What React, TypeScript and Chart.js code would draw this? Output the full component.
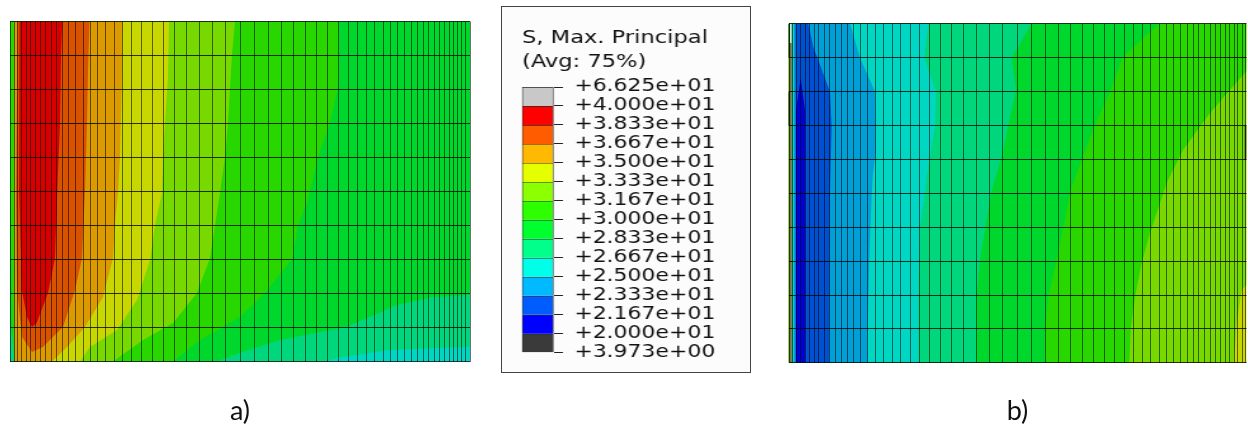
import React, { useEffect, useRef } from "react";
import Chart from "chart.js/auto";

type Pt = [number, number];

// ---- legend ----
const legendTitle = ["S, Max. Principal", "(Avg: 75%)"];
const legendTicks = [
  "+6.625e+01", "+4.000e+01", "+3.833e+01", "+3.667e+01", "+3.500e+01",
  "+3.333e+01", "+3.167e+01", "+3.000e+01", "+2.833e+01", "+2.667e+01",
  "+2.500e+01", "+2.333e+01", "+2.167e+01", "+2.000e+01", "+3.973e+00",
];
const legendColors = [
  "#c8c8c8", "#ff0000", "#ff5c00", "#ffb900", "#e6ff00", "#8cff00", "#2eff00",
  "#00ff2e", "#00ff8b", "#00ffe8", "#00b9ff", "#005cff", "#0000ff", "#3a3a3a",
];

// ---- contour colours as lit in the model view ----
const C = {
  red: "#d60000", orangeRed: "#d95200", orange: "#db9b00", yellow: "#c8d700",
  yg: "#78d900", lime: "#28d700", green: "#00d72c", teal: "#00d77c",
  cyan: "#00d7c3", sky: "#00a0d7", blue: "#0050d2", deep: "#0000d7",
  brown: "#a05a40", pale: "#d8dcd0",
};

// ---- panel a) mesh ----
const aMeshX = [10, 14.7, 17.7, 21.7, 26, 30.7, 35.3, 40.3, 45.7, 51, 56.7, 62.3, 68.7, 75.7, 83, 90, 97.7, 105.7, 114, 122.3, 131.7, 141.7, 152.3, 163, 174.7, 186.3, 199, 212, 225.7, 240, 254, 268.3, 281.3, 293.7, 305.3, 316.7, 327.7, 338.3, 348, 357.3, 366.3, 374.7, 383, 390.3, 397.7, 404.7, 411.3, 417.3, 423, 428.3, 434.3, 439.3, 444.7, 449.3, 453.7, 457.7, 461.7, 465.7, 470];
const aMeshY = [21.5, 55.3, 89.3, 123.3, 157.3, 191.3, 225.3, 259.3, 293.3, 327.3, 361.5];

// ---- panel a) contour regions, back to front ----
const aCyan: Pt[] = [[10, 21.5], [470, 21.5], [470, 361.5], [10, 361.5]];
const aTeal: Pt[] = [[10, 21.5], [470, 21.5], [470, 346.7], [390, 350], [337, 358], [327, 361.5], [10, 361.5]];
const aGreen: Pt[] = [[10, 21.5], [470, 21.5], [470, 295], [433, 297], [397, 305], [347, 326.7], [280, 340], [240, 352.7], [217, 361.5], [14, 361.5], [14, 345], [10, 325]];
const aLime: Pt[] = [[10, 21.5], [338, 21.5], [339, 55], [337.7, 89], [330, 123], [318, 157], [308, 200], [298, 225], [292, 259], [265, 293], [240, 317], [200, 340], [173, 361.5], [14.5, 361.5], [13, 340], [10, 200]];
const aYg: Pt[] = [[14, 21.5], [235, 21.5], [232, 55], [228, 123], [225, 157], [220, 193], [210, 258], [197, 293], [173, 323], [143, 340], [113, 361.5], [14.5, 361.5]];
const aYellow: Pt[] = [[14.3, 21.5], [169, 21.5], [168, 77], [165, 123], [163, 157], [162, 193], [155, 225], [150, 260], [137, 300], [117, 330], [90, 347], [80, 361.5], [14.8, 361.5]];
const aOrange: Pt[] = [[14.7, 21.5], [122.3, 21.5], [122, 73], [120, 157], [118, 193], [115, 223], [113, 258], [103, 297], [85, 327], [67, 347], [52, 361.5], [15, 361.5]];
const aOrangeRed: Pt[] = [[17.5, 21.5], [89.5, 21.5], [88, 70], [87, 123], [85, 192], [82, 258], [75, 290], [63, 327], [43, 347], [32, 352], [22, 337], [17, 290], [16, 200]];
const aRed: Pt[] = [[19.5, 21.5], [62.3, 21.5], [61, 55], [60, 123], [57.3, 191], [55, 258], [48, 293], [36.7, 323], [32, 327], [27, 317], [21.7, 290], [20, 223], [19, 190]];

// ---- panel b) mesh ----
const bMeshX = [789, 792, 796, 800.7, 805, 809.3, 814, 818.7, 824, 829.3, 835, 841, 847.3, 853.7, 860.3, 867.7, 875.7, 883.3, 892, 900.7, 910, 919.7, 929.7, 940.3, 951.7, 963.3, 976, 989, 1002.7, 1017.3, 1031.7, 1045, 1058.3, 1070.7, 1082.7, 1093.7, 1104.7, 1114.7, 1124.7, 1133.7, 1142.7, 1150.7, 1159, 1166.7, 1173.7, 1180.7, 1187, 1193, 1198.7, 1204.7, 1210.3, 1215.7, 1220.7, 1225.3, 1229.7, 1234, 1237.7, 1242, 1245.5];
const bMeshY = [23.5, 57.7, 91.7, 125.7, 159.7, 193.5, 227.3, 261, 295, 328.7, 362.7];

// ---- panel b) contour regions, back to front ----
const bYellow: Pt[] = [[788.5, 23.5], [1246.5, 23.5], [1246.5, 362.7], [788.5, 362.7]];
const bYg: Pt[] = [[788.5, 23.5], [1246.5, 23.5], [1246.5, 285], [1241.7, 290], [1236.7, 323], [1234, 362.7], [788.5, 362.7]];
const bLime: Pt[] = [[788.5, 23.5], [1246.5, 23.5], [1246.5, 71], [1210, 113], [1183, 150], [1166.7, 183], [1150, 233], [1141.7, 263], [1135, 297], [1130.7, 330], [1129.3, 362.7], [788.5, 362.7]];
const bGreen: Pt[] = [[788.5, 23.5], [1159, 23.5], [1123.3, 56.7], [1110, 91.7], [1095, 125], [1081.7, 160], [1070.7, 190], [1056.7, 260], [1048.3, 296.7], [1045, 330], [1045, 362.7], [788.5, 362.7]];
const bTeal: Pt[] = [[791, 23.5], [1031.7, 23.5], [1011.7, 57.7], [1016, 90], [1010, 117], [1001.7, 157], [991, 193], [980, 260], [976.7, 295], [976, 362.7], [791, 362.7]];
const bCyan: Pt[] = [[792.5, 23.5], [928.3, 23.5], [924, 57.7], [936, 91.7], [935, 125.7], [926.7, 176.7], [925, 193], [920, 226.7], [918.3, 295], [918.3, 362.7], [792.5, 362.7]];
const bSky: Pt[] = [[794, 23.5], [850, 23.5], [860, 57.7], [875, 91.7], [876, 150], [872.7, 176.7], [871.7, 195], [869.3, 260], [867.7, 328], [867.7, 362.7], [794, 362.7]];
const bBlue: Pt[] = [[795.5, 23.5], [808.3, 23.5], [813.3, 46.7], [830, 91.7], [831.7, 125.7], [830, 193], [829, 362.7], [795.5, 362.7]];
const bDeep: Pt[] = [[800.7, 78], [805, 110], [805, 362.7], [796, 362.7], [796, 110]];
const bBrown: Pt[] = [[789, 43], [791.5, 43], [791.5, 362.7], [789, 362.7]];
const bPale: Pt[] = [[789, 23.5], [791.5, 23.5], [791.5, 43], [789, 43]];
const bEdgeStubs: Pt[][] = [
  [[789, 23.5], [789, 57.7]],
  [[789, 91.7], [789, 125.7]],
  [[1245.7, 125.7], [1245.7, 159.7]],
];

type Layer = { color: string; points: Pt[] };

const aLayers: Layer[] = [
  { color: C.cyan, points: aCyan }, { color: C.teal, points: aTeal }, { color: C.green, points: aGreen },
  { color: C.lime, points: aLime }, { color: C.yg, points: aYg }, { color: C.yellow, points: aYellow },
  { color: C.orange, points: aOrange }, { color: C.orangeRed, points: aOrangeRed }, { color: C.red, points: aRed },
];
const bLayers: Layer[] = [
  { color: C.yellow, points: bYellow }, { color: C.yg, points: bYg }, { color: C.lime, points: bLime },
  { color: C.green, points: bGreen }, { color: C.teal, points: bTeal }, { color: C.cyan, points: bCyan },
  { color: C.sky, points: bSky }, { color: C.blue, points: bBlue }, { color: C.deep, points: bDeep },
  { color: C.brown, points: bBrown }, { color: C.pale, points: bPale },
];

function panelConfig(
  label: string, layers: Layer[], stubs: Pt[][], meshX: number[], meshY: number[],
  xMin: number, xMax: number, yMin: number, yMax: number, canvasLeft: number, canvasW: number,
): any {
  const toXY = (pts: Pt[]) => pts.map(([x, y]) => ({ x, y }));
  const n = layers.length;
  const datasets: any[] = layers.map((l, i) => ({
    data: toXY(l.points), showLine: true, fill: "shape", backgroundColor: l.color,
    borderWidth: 0, pointRadius: 0, tension: 0, order: n - i + 1,
  }));
  stubs.forEach((s) => datasets.push({
    data: toXY(s), showLine: true, fill: false, borderColor: "rgba(20,20,20,0.75)",
    borderWidth: 2, pointRadius: 0, order: 0,
  }));
  return {
    type: "scatter",
    data: { datasets },
    options: {
      animation: false, responsive: false, events: [],
      layout: { padding: { left: xMin - canvasLeft, right: canvasLeft + canvasW - xMax, top: yMin, bottom: 0 } },
      plugins: { legend: { display: false }, tooltip: { enabled: false }, title: { display: false } },
      scales: {
        x: {
          type: "linear", min: xMin, max: xMax,
          afterBuildTicks: (s: any) => { s.ticks = meshX.map((value) => ({ value })); },
          afterFit: (s: any) => { s.height = 425 - yMax; },
          ticks: { display: false, autoSkip: false },
          border: { display: false },
          grid: { color: "rgba(0,0,0,0.56)", lineWidth: 1, drawTicks: false, z: 1 },
          title: {
            display: true, text: label, color: "#111",
            font: { family: "Lato", size: 27, lineHeight: 1 }, padding: { top: 0, bottom: 0 },
          },
        },
        y: {
          type: "linear", reverse: true, min: yMin, max: yMax,
          afterBuildTicks: (s: any) => { s.ticks = meshY.map((value) => ({ value })); },
          ticks: { display: false, autoSkip: false },
          border: { display: false },
          grid: { color: "rgba(0,0,0,0.78)", lineWidth: 1, drawTicks: false, z: 1 },
        },
      },
    },
  };
}

function legendConfig(): any {
  const top = legendColors.length;
  return {
    type: "bar",
    data: {
      labels: ["S"],
      datasets: legendColors.map((c, i) => ({
        data: [[top - i - 1, top - i]], backgroundColor: c, borderColor: "#2a2a2a", borderWidth: 1,
        grouped: false, barPercentage: 1, categoryPercentage: 1,
      })),
    },
    options: {
      animation: false, responsive: false, events: [],
      layout: { padding: { left: 15.7, right: 0, top: 0, bottom: 19 } },
      plugins: {
        legend: { display: false }, tooltip: { enabled: false },
        title: {
          display: true, text: legendTitle, align: "start", color: "#111",
          font: { family: "DejaVu Sans", size: 17.8, weight: "normal", lineHeight: 24 / 17.8 },
          padding: { top: 19, bottom: 13 },
        },
      },
      scales: {
        x: { display: false },
        y: {
          position: "right", min: 0, max: top,
          afterFit: (s: any) => { s.width = 154.4; },
          ticks: {
            stepSize: 1, autoSkip: false, padding: 8.9, color: "#111",
            font: { family: "DejaVu Sans", size: 17.3 },
            callback: (v: number) => legendTicks[top - v],
          },
          border: { display: false },
          grid: { drawOnChartArea: false, drawTicks: true, tickLength: 7.4, tickColor: "#222", lineWidth: 1 },
        },
      },
    },
  };
}

export default function App() {
  const aRef = useRef<HTMLCanvasElement>(null);
  const bRef = useRef<HTMLCanvasElement>(null);
  const lRef = useRef<HTMLCanvasElement>(null);
  useEffect(() => {
    const charts = [
      new Chart(aRef.current!, panelConfig("a)", aLayers, [], aMeshX, aMeshY, 10, 470, 21.5, 361.5, 0, 480)),
      new Chart(bRef.current!, panelConfig("b)", bLayers, bEdgeStubs, bMeshX, bMeshY, 788.5, 1246.5, 23.5, 362.7, 770, 478)),
      new Chart(lRef.current!, legendConfig()),
    ];
    return () => charts.forEach((c) => c.destroy());
  }, []);
  return (
    <div style={{ position: "absolute", left: 0, top: 0, width: 1248, height: 425, background: "#fff", overflow: "hidden" }}>
      <canvas ref={aRef} width={480} height={425} style={{ position: "absolute", left: 0, top: 0 }} />
      <canvas ref={bRef} width={478} height={425} style={{ position: "absolute", left: 770, top: 0 }} />
      <div style={{ position: "absolute", left: 501, top: 6, width: 250, height: 367, boxSizing: "border-box", border: "1px solid #444", background: "#fcfcfc", overflow: "hidden" }}>
        <canvas ref={lRef} width={195} height={365} style={{ position: "absolute", left: 0, top: 0, transformOrigin: "0 0", transform: "scaleX(1.27)" }} />
      </div>
    </div>
  );
}
